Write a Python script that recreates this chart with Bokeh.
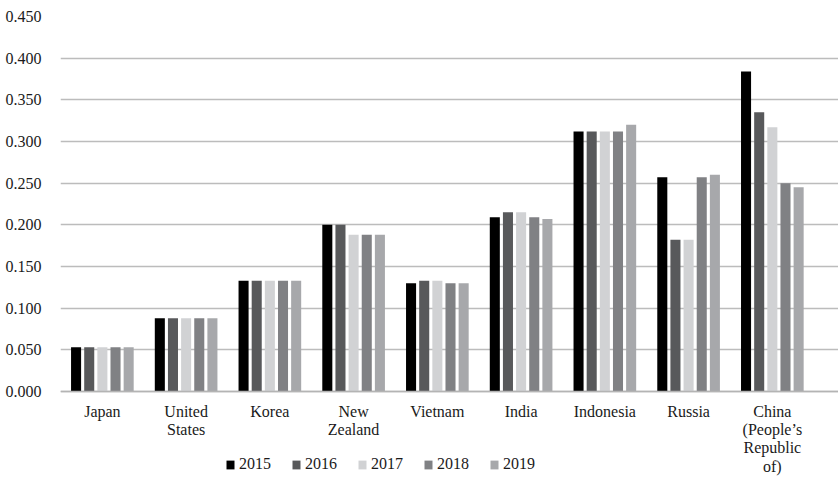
from bokeh.plotting import figure
from bokeh.models import ColumnDataSource, FixedTicker, Range1d, Legend, LegendItem
from bokeh.transform import dodge
from bokeh.embed import file_html
from bokeh.resources import INLINE

# Country categories (axis labels, multi-line where wrapped)
countries = ["Japan", "United\nStates", "Korea", "New\nZealand", "Vietnam",
             "India", "Indonesia", "Russia", "China\n(People\u2019s\nRepublic\nof)"]

years = ["2015", "2016", "2017", "2018", "2019"]

v2015 = [0.053, 0.088, 0.133, 0.200, 0.130, 0.209, 0.312, 0.257, 0.384]
v2016 = [0.053, 0.088, 0.133, 0.200, 0.133, 0.215, 0.312, 0.182, 0.335]
v2017 = [0.053, 0.088, 0.133, 0.188, 0.133, 0.215, 0.312, 0.182, 0.317]
v2018 = [0.053, 0.088, 0.133, 0.188, 0.130, 0.209, 0.312, 0.257, 0.250]
v2019 = [0.053, 0.088, 0.133, 0.188, 0.130, 0.207, 0.320, 0.260, 0.245]

y_ticks = [0.0, 0.05, 0.1, 0.15, 0.2, 0.25, 0.3, 0.35, 0.4, 0.45]

colors = ["#000000", "#58595b", "#d1d2d4", "#808184", "#a7a8ab"]
FONT = "Liberation Serif"
FONT_SIZE = "16px"
TEXT_COLOR = "#1a1a1a"

idx = list(range(len(countries)))
source = ColumnDataSource(data=dict(
    x=idx, v2015=v2015, v2016=v2016, v2017=v2017, v2018=v2018, v2019=v2019,
))

# The frame runs down to the bottom edge; the category axis sits at y = 0 and
# the space under it holds the country labels and the year legend.
y_top = 0.45
y_bottom = -y_top * 89 / 375

p = figure(width=838, height=480, output_backend="svg", toolbar_location=None,
           x_range=Range1d(-0.5, len(countries) - 0.5 + 0.29),
           y_range=Range1d(y_bottom, y_top),
           min_border_left=60, min_border_top=16, min_border_right=0,
           min_border_bottom=0)
p.outline_line_color = None
p.background_fill_color = "white"
p.border_fill_color = "white"

pitch = 0.157
bar_w = 0.12
renderers = []
for i, (yr, col) in enumerate(zip(years, colors)):
    off = (i - 2) * pitch
    r = p.vbar(x=dodge("x", off), top="v" + yr, width=bar_w, source=source,
               fill_color=col, line_color=None)
    renderers.append(r)

# y axis
p.yaxis.ticker = FixedTicker(ticks=y_ticks)
p.yaxis.major_label_overrides = {t: f"{t:.3f}" for t in y_ticks}
p.yaxis.axis_line_color = None
p.yaxis.major_tick_line_color = None
p.yaxis.minor_tick_line_color = None
p.yaxis.major_label_standoff = 13
p.yaxis.major_label_text_font = FONT
p.yaxis.major_label_text_font_size = FONT_SIZE
p.yaxis.major_label_text_color = TEXT_COLOR

# x axis with country labels, pinned to the zero line
p.xaxis.fixed_location = 0
p.xaxis.ticker = FixedTicker(ticks=idx)
p.xaxis.major_label_overrides = {i: c for i, c in zip(idx, countries)}
p.xaxis.axis_line_color = "#b4b4b4"
p.xaxis.axis_line_width = 1.5
p.xaxis.major_tick_line_color = None
p.xaxis.minor_tick_line_color = None
p.xaxis.major_label_standoff = 5
p.xaxis.major_label_text_font = FONT
p.xaxis.major_label_text_font_size = FONT_SIZE
p.xaxis.major_label_text_color = TEXT_COLOR
p.xaxis.major_label_text_line_height = 1.08

p.xgrid.grid_line_color = None
p.ygrid.grid_line_color = "#bcbcbc"
p.ygrid.grid_line_width = 1.5

legend = Legend(items=[LegendItem(label=yr, renderers=[r]) for yr, r in zip(years, renderers)],
                orientation="horizontal", location=(165, 7),
                background_fill_alpha=0, border_line_color=None,
                label_text_font=FONT, label_text_font_size=FONT_SIZE,
                label_text_color=TEXT_COLOR,
                glyph_width=10, glyph_height=11, label_standoff=4,
                spacing=20, padding=0, margin=0)
p.add_layout(legend, "center")

open("out.html", "w").write(file_html(p, INLINE))
